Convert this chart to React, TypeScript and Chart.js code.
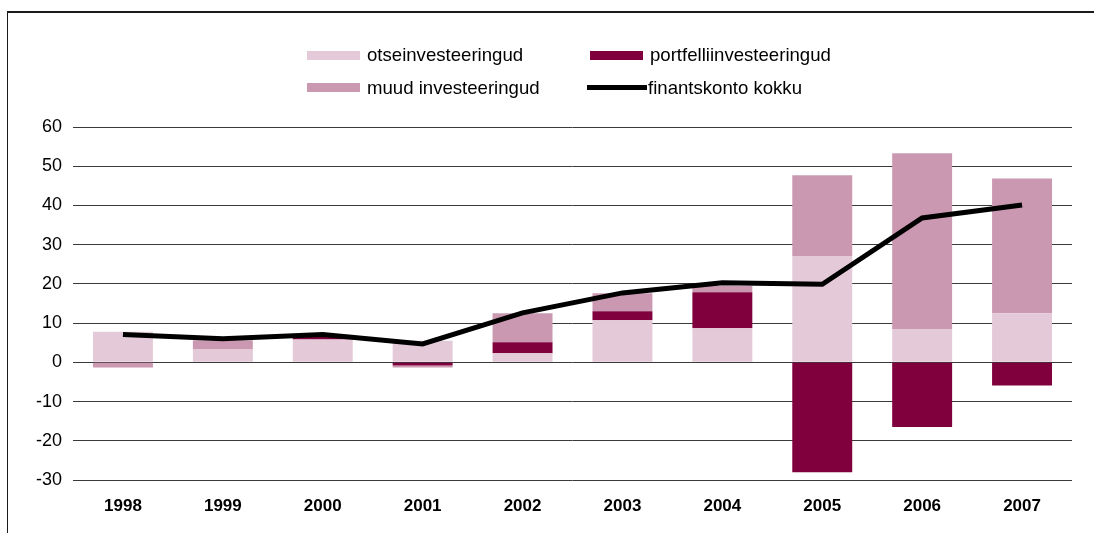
import React, { useEffect, useRef } from "react";
import { Chart, registerables } from "chart.js";

Chart.register(...registerables);

const years = ["1998", "1999", "2000", "2001", "2002", "2003", "2004", "2005", "2006", "2007"];
const otseinvesteeringud = [7.8, 3.3, 5.8, 5.5, 2.3, 10.7, 8.7, 27.0, 8.4, 12.5];
const portfelliinvesteeringud = [0, 0, 1.1, -0.8, 2.8, 2.3, 9.2, -28.0, -16.5, -5.9];
const muudInvesteeringud = [-1.3, 2.3, 0, -0.5, 7.4, 4.6, 1.6, 20.7, 44.9, 34.4];
const finantskontoKokku = [7.1, 6.0, 7.1, 4.7, 12.6, 17.7, 20.3, 19.9, 36.8, 40.1];

const COLOR_OTSE = "#e4cad8";
const COLOR_PORT = "#7f003c";
const COLOR_MUUD = "#cb98b2";
const FONT = "'Liberation Sans', Arial, Helvetica, sans-serif";

export default function App() {
  const canvasRef = useRef<HTMLCanvasElement | null>(null);

  useEffect(() => {
    document.body.style.margin = "0";
    const canvas = canvasRef.current;
    if (!canvas) return;
    const chart = new Chart(canvas, {
      type: "bar",
      data: {
        labels: years,
        datasets: [
          {
            type: "line",
            label: "finantskonto kokku",
            data: finantskontoKokku,
            borderColor: "#000",
            backgroundColor: "#000",
            borderWidth: 5,
            pointRadius: 0,
            tension: 0,
            stack: "line",
            order: 0,
          } as any,
          {
            label: "otseinvesteeringud",
            data: otseinvesteeringud,
            backgroundColor: COLOR_OTSE,
            stack: "bars",
            order: 1,
          },
          {
            label: "portfelliinvesteeringud",
            data: portfelliinvesteeringud,
            backgroundColor: COLOR_PORT,
            stack: "bars",
            order: 1,
          },
          {
            label: "muud investeeringud",
            data: muudInvesteeringud,
            backgroundColor: COLOR_MUUD,
            stack: "bars",
            order: 1,
          },
        ],
      },
      options: {
        responsive: false,
        animation: false,
        devicePixelRatio: 1,
        layout: { padding: { top: 127, right: 22, left: 0, bottom: 0 } },
        datasets: {
          bar: { barPercentage: 0.6, categoryPercentage: 1.0 },
        },
        plugins: {
          legend: { display: false },
          tooltip: { enabled: false },
        },
        scales: {
          x: {
            stacked: true,
            grid: { display: false, drawTicks: false },
            border: { display: false },
            ticks: {
              color: "#000",
              padding: 16,
              font: { family: FONT, size: 17, weight: "bold" },
            },
            afterFit: (scale: any) => {
              scale.height = 53;
            },
          },
          y: {
            stacked: true,
            min: -30,
            max: 60,
            grid: { color: "#3a3a3a", lineWidth: 1, drawTicks: false },
            border: { display: false },
            ticks: {
              stepSize: 10,
              color: "#000",
              padding: 11,
              font: { family: FONT, size: 18 },
            },
            afterFit: (scale: any) => {
              scale.width = 73;
            },
          },
        },
      },
    });
    return () => chart.destroy();
  }, []);

  const legendText: React.CSSProperties = {
    position: "absolute",
    fontFamily: FONT,
    fontSize: 18.6,
    color: "#000",
    lineHeight: "20px",
    whiteSpace: "nowrap",
  };

  return (
    <div style={{ position: "fixed", left: 0, top: 0, width: 1094, height: 533, background: "#fff", overflow: "hidden" }}>
      <canvas ref={canvasRef} width={1094} height={533} style={{ position: "absolute", left: 0, top: 0 }} />
      <div style={{ position: "absolute", left: 7, top: 11, width: 1087, height: 2, background: "#1a1a1a" }} />
      <div style={{ position: "absolute", left: 7, top: 11, width: 1, height: 522, background: "#1a1a1a" }} />

      <div style={{ position: "absolute", left: 307, top: 51, width: 53, height: 9, background: COLOR_OTSE }} />
      <div style={{ ...legendText, left: 367, top: 45 }}>otseinvesteeringud</div>

      <div style={{ position: "absolute", left: 590, top: 51, width: 53, height: 9, background: COLOR_PORT }} />
      <div style={{ ...legendText, left: 650, top: 45 }}>portfelliinvesteeringud</div>

      <div style={{ position: "absolute", left: 307, top: 83, width: 53, height: 9, background: COLOR_MUUD }} />
      <div style={{ ...legendText, left: 367, top: 78 }}>muud investeeringud</div>

      <div style={{ position: "absolute", left: 587, top: 85, width: 60, height: 5, background: "#000" }} />
      <div style={{ ...legendText, left: 648, top: 78 }}>finantskonto kokku</div>
    </div>
  );
}
